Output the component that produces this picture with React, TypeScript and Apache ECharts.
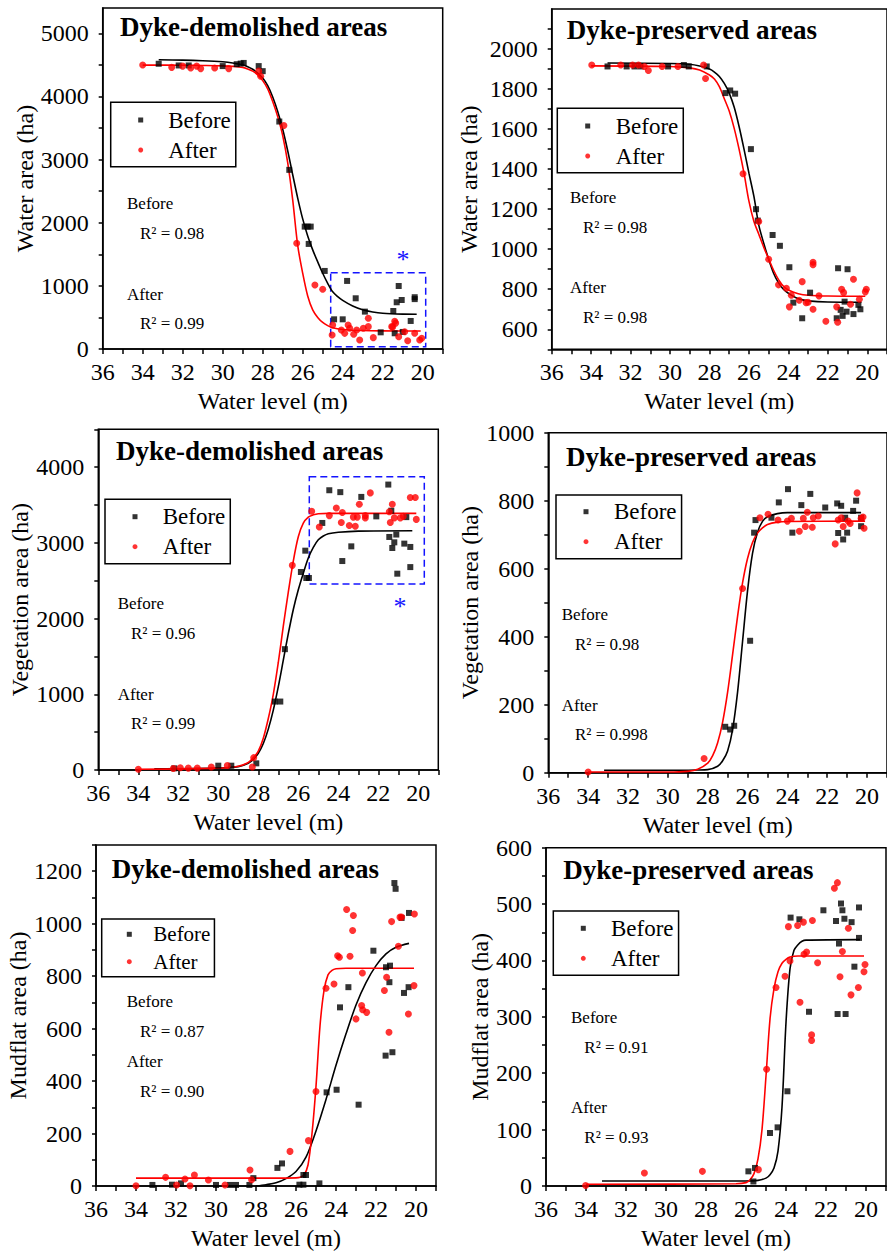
import React, { useEffect, useRef } from 'react';
import * as echarts from 'echarts';

const FONT = "'Liberation Serif', 'Times New Roman', Times, serif";

// ---------- Shared axis ticks ----------
const xLabelValues = [20, 22, 24, 26, 28, 30, 32, 34, 36];
const xTickValues = [19, 20, 21, 22, 23, 24, 25, 26, 27, 28, 29, 30, 31, 32, 33, 34, 35, 36];

// ---------- Panel 1: Water area, dyke-demolished ----------
const waterDemYLabels = [0, 1000, 2000, 3000, 4000, 5000];
const waterDemYTicks = [0, 500, 1000, 1500, 2000, 2500, 3000, 3500, 4000, 4500, 5000];
const waterDemBefore = [
  [33.2, 4517], [32.2, 4490], [31.7, 4490], [30.0, 4480], [29.3, 4510], [29.1, 4520], [28.95, 4530],
  [28.2, 4480], [28.0, 4400], [27.17, 3602], [26.67, 2837], [25.9, 1938], [25.75, 1938], [25.6, 1938],
  [25.7, 1664], [24.9, 1236], [24.43, 470], [24.0, 470], [23.78, 1078], [23.35, 803], [22.89, 592],
  [22.1, 264], [21.4, 249], [21.47, 602], [21.2, 998], [21.3, 740], [21.05, 776], [20.6, 444],
  [20.4, 820], [20.4, 790], [21.0, 270],
];
const waterDemAfter = [
  [34.0, 4496], [32.55, 4460], [32.0, 4480], [31.6, 4450], [31.3, 4480], [31.1, 4440], [30.4, 4450],
  [29.7, 4440], [28.2, 4400], [28.1, 4320], [26.94, 3540], [26.3, 1675], [25.39, 1014], [25.0, 946],
  [24.5, 380], [24.53, 222], [24.07, 301], [23.9, 248], [23.73, 380], [23.65, 328], [23.45, 233],
  [23.15, 143], [23.3, 301], [22.97, 328], [22.72, 486], [22.72, 354], [22.47, 180], [21.55, 354],
  [21.4, 440], [21.35, 410], [21.5, 350], [21.2, 195], [20.9, 274], [20.75, 132], [20.4, 249],
  [20.15, 143], [20.05, 170],
];
const waterDemBeforeFit = [
  [20.3, 550], [21, 552], [22, 565], [22.5, 585], [23, 620], [23.5, 680], [24, 770], [24.25, 830],
  [24.5, 905], [24.75, 1040], [25, 1200], [25.25, 1380], [25.5, 1570], [25.75, 1790], [26, 2060],
  [26.25, 2390], [26.5, 2760], [26.75, 3140], [27, 3480], [27.25, 3760], [27.5, 3990], [27.75, 4170],
  [28, 4290], [28.25, 4370], [28.5, 4430], [28.75, 4470], [29, 4500], [29.5, 4530], [30, 4548],
  [31, 4565], [32, 4575], [33.2, 4580],
];
const waterDemAfterFit = [
  [20.1, 285], [22, 287], [23, 292], [24, 310], [24.5, 335], [24.75, 370], [25, 420], [25.25, 500],
  [25.5, 620], [25.75, 840], [26, 1200], [26.25, 1640], [26.5, 2360], [26.75, 2950], [27, 3380],
  [27.25, 3680], [27.5, 3920], [27.75, 4120], [28, 4250], [28.25, 4342], [28.5, 4400], [28.75, 4435],
  [29, 4460], [29.5, 4475], [30, 4484], [31, 4490], [32, 4494], [34, 4496],
];

// ---------- Panel 2: Water area, dyke-preserved ----------
const waterPresYLabels = [600, 800, 1000, 1200, 1400, 1600, 1800, 2000];
const waterPresYTicks = [500, 600, 700, 800, 900, 1000, 1100, 1200, 1300, 1400, 1500, 1600, 1700, 1800, 1900, 2000, 2100];
const waterPresBefore = [
  [33.17, 1913], [32.2, 1913], [31.8, 1913], [31.5, 1913], [30.1, 1913], [29.3, 1920], [29.05, 1913],
  [28.14, 1913], [27.19, 1780], [26.95, 1793], [26.7, 1777], [25.9, 1500], [25.64, 1200], [25.55, 1143],
  [24.8, 1071], [24.43, 1017], [23.95, 910], [23.75, 733], [23.3, 655], [22.9, 783], [21.48, 905],
  [21.0, 900], [21.55, 655], [21.35, 697], [21.25, 667], [21.15, 738], [21.05, 688], [20.7, 676],
  [20.45, 722], [20.35, 700],
];
const waterPresAfter = [
  [33.97, 1920], [32.5, 1920], [31.9, 1920], [31.6, 1920], [31.3, 1913], [31.1, 1893], [30.4, 1913],
  [29.6, 1913], [28.3, 1920], [28.2, 1853], [26.3, 1377], [25.5, 1138], [25.0, 950], [24.5, 822],
  [24.1, 805], [23.85, 770], [23.95, 712], [23.45, 745], [23.3, 838], [23.1, 733], [23.0, 735],
  [22.75, 923], [22.75, 935], [22.75, 700], [22.45, 767], [22.1, 640], [21.55, 712], [21.5, 635],
  [21.3, 800], [21.2, 783], [20.7, 850], [20.85, 725], [20.4, 750], [20.05, 800], [20.1, 787],
];
const waterPresBeforeFit = [
  [20.3, 735], [22, 736], [23, 742], [23.5, 752], [24, 780], [24.25, 800], [24.5, 832], [24.75, 880],
  [25, 950], [25.25, 1030], [25.5, 1120], [25.75, 1265], [26, 1380], [26.25, 1500], [26.5, 1613],
  [26.75, 1710], [27, 1780], [27.25, 1828], [27.5, 1863], [27.75, 1885], [28, 1900], [28.5, 1915],
  [29, 1924], [30, 1928], [33.17, 1930],
];
const waterPresAfterFit = [
  [20.1, 765], [22, 766], [23, 770], [23.5, 778], [24, 796], [24.25, 815], [24.5, 848], [24.75, 895],
  [25, 952], [25.25, 1010], [25.5, 1075], [25.75, 1140], [26, 1240], [26.25, 1380], [26.5, 1500],
  [26.75, 1605], [27, 1690], [27.25, 1752], [27.5, 1812], [27.75, 1850], [28, 1870], [28.5, 1895],
  [29, 1906], [30, 1913], [34, 1916],
];

// ---------- Panel 3: Vegetation area, dyke-demolished ----------
const vegDemYLabels = [0, 1000, 2000, 3000, 4000];
const vegDemYTicks = [0, 500, 1000, 1500, 2000, 2500, 3000, 3500, 4000, 4500];
const vegDemBefore = [
  [32.2, 22], [30.0, 57], [29.35, 57], [28.1, 88], [27.17, 904], [26.9, 904], [26.67, 1596],
  [25.87, 2615], [25.65, 2897], [25.6, 2536], [25.47, 2536], [24.8, 3263], [24.45, 3695], [23.9, 3670],
  [23.8, 2760], [23.35, 2954], [22.85, 3607], [22.1, 3350], [21.5, 3770], [21.45, 3078], [21.35, 3425],
  [21.3, 2932], [21.2, 3007], [21.1, 3110], [21.05, 2593], [20.7, 2990], [20.6, 3340], [20.4, 2946],
  [20.4, 2680],
];
const vegDemAfter = [
  [34.0, 10], [32.25, 20], [31.9, 30], [31.5, 25], [31.05, 25], [30.35, 40], [29.55, 60], [28.23, 163],
  [28.3, 40], [26.3, 2703], [25.33, 3417], [24.95, 3210], [24.45, 3360], [24.1, 3460], [23.8, 3400],
  [23.85, 3270], [23.45, 3230], [23.15, 3220], [23.25, 3340], [23.05, 3340], [22.95, 3510], [22.65, 3330],
  [22.65, 3360], [22.4, 3660], [21.45, 3410], [21.4, 3270], [21.3, 3510], [21.2, 3330], [20.9, 3330],
  [20.75, 3350], [20.4, 3600], [20.15, 3600], [20.1, 3310],
];
const vegDemBeforeFit = [
  [20.3, 3160], [23, 3155], [24, 3140], [24.5, 3120], [24.75, 3090], [25, 3040], [25.25, 2940],
  [25.5, 2800], [25.75, 2600], [26, 2380], [26.25, 2120], [26.5, 1800], [26.75, 1450], [27, 1100],
  [27.25, 790], [27.5, 540], [27.75, 350], [28, 220], [28.25, 140], [28.5, 90], [29, 45], [30, 25],
  [33.2, 15],
];
const vegDemAfterFit = [
  [20.1, 3390], [24.5, 3390], [25, 3385], [25.25, 3370], [25.5, 3340], [25.75, 3260], [26, 3080],
  [26.25, 2760], [26.5, 2350], [26.75, 1900], [27, 1420], [27.25, 1000], [27.5, 680], [27.75, 420],
  [28, 250], [28.25, 160], [28.5, 100], [29, 50], [30, 25], [34, 10],
];

// ---------- Panel 4: Vegetation area, dyke-preserved ----------
const vegPresYLabels = [0, 200, 400, 600, 800, 1000];
const vegPresYTicks = [0, 100, 200, 300, 400, 500, 600, 700, 800, 900, 1000];
const vegPresBefore = [
  [27.12, 135], [26.87, 127], [26.67, 138], [25.87, 388], [25.67, 706], [25.6, 743], [24.8, 750],
  [24.43, 795], [23.97, 834], [23.75, 706], [23.3, 787], [22.85, 820], [22.1, 780], [21.5, 792],
  [21.3, 785], [21.45, 705], [21.2, 686], [21.0, 706], [21.1, 750], [20.7, 770], [20.55, 800],
  [20.3, 750], [20.3, 725],
];
const vegPresAfter = [
  [34.0, 2], [28.18, 42], [26.25, 542], [25.38, 750], [24.97, 760], [24.47, 743], [24.0, 740],
  [23.8, 748], [23.4, 710], [23.2, 748], [23.1, 724], [23.0, 766], [22.75, 722], [22.7, 750],
  [22.45, 755], [21.6, 673], [21.45, 743], [21.3, 750], [21.2, 724], [20.95, 740], [20.85, 733],
  [20.5, 823], [20.3, 748], [20.2, 752], [20.15, 719],
];
const vegPresBeforeFit = [
  [20.3, 765], [24, 765], [24.5, 762], [25, 753], [25.25, 739], [25.5, 707], [25.75, 645], [26, 535],
  [26.25, 386], [26.5, 237], [26.75, 127], [27, 64], [27.25, 35], [27.5, 19], [28, 9], [28.5, 8],
  [30, 7], [33.2, 7],
];
const vegPresAfterFit = [
  [20.1, 740], [24, 739], [24.5, 737], [25, 730], [25.25, 720], [25.5, 705], [25.75, 677], [26, 630],
  [26.25, 558], [26.5, 460], [26.75, 347], [27, 237], [27.25, 149], [27.5, 88], [27.75, 50], [28, 28],
  [28.5, 10], [29, 4], [30, 2], [34, 2],
];

// ---------- Panel 5: Mudflat area, dyke-demolished ----------
const mudDemYLabels = [0, 200, 400, 600, 800, 1000, 1200];
const mudDemYTicks = [0, 100, 200, 300, 400, 500, 600, 700, 800, 900, 1000, 1100, 1200, 1300];
const mudDemBefore = [
  [33.18, 4], [32.2, 5], [31.75, 10], [30.0, 4], [29.3, 4], [29.0, 4], [28.33, 4], [28.13, 30],
  [26.93, 69], [26.7, 86], [25.83, 5], [25.63, 5], [25.63, 42], [25.5, 42], [24.83, 10], [24.47, 357],
  [23.97, 367], [23.8, 681], [23.38, 758], [22.87, 310], [22.13, 897], [21.5, 834], [21.3, 840],
  [21.33, 777], [21.52, 497], [21.18, 510], [21.08, 1155], [21.02, 1133], [20.72, 1022], [20.6, 736],
  [20.37, 758], [20.35, 1041],
];
const mudDemAfter = [
  [34.0, 1], [32.52, 33], [31.97, 4], [31.55, 27], [31.3, 1], [31.08, 42], [30.38, 23], [29.55, 4],
  [28.3, 61], [28.22, 24], [26.3, 132], [25.38, 173], [25.0, 360], [24.5, 754], [24.1, 770],
  [23.92, 878], [23.83, 872], [23.47, 1054], [23.3, 876], [23.13, 1031], [23.17, 974], [23.0, 637],
  [22.68, 812], [22.72, 688], [22.67, 672], [22.47, 662], [21.58, 745], [21.47, 796], [21.35, 586],
  [21.22, 1008], [20.88, 914], [20.8, 1025], [20.72, 1025], [20.38, 656], [20.1, 764], [20.08, 1037],
];
const mudDemBeforeFit = [
  [20.35, 925], [21, 910], [21.5, 885], [22, 840], [22.5, 775], [23, 690], [23.5, 580], [24, 460],
  [24.5, 330], [25, 210], [25.5, 110], [26, 55], [26.5, 28], [27, 12], [27.5, 5], [28, 0],
];
const mudDemAfterFit = [
  [20.1, 830], [23.5, 830], [24, 828], [24.2, 822], [24.4, 805], [24.6, 745], [24.8, 610],
  [25.0, 380], [25.2, 200], [25.4, 80], [25.6, 42], [25.8, 33], [26, 31], [27, 30], [34, 30],
];

// ---------- Panel 6: Mudflat area, dyke-preserved ----------
const mudPresYLabels = [0, 100, 200, 300, 400, 500, 600];
const mudPresYTicks = [0, 50, 100, 150, 200, 250, 300, 350, 400, 450, 500, 550, 600];
const mudPresBefore = [
  [25.88, 26], [25.63, 8], [25.55, 32], [24.8, 94], [24.42, 104], [23.93, 168], [23.77, 476],
  [23.33, 473], [22.85, 309], [22.13, 489], [21.5, 470], [21.42, 305], [21.35, 430], [21.25, 501],
  [21.18, 489], [21.08, 474], [21.02, 305], [20.72, 468], [20.58, 389], [20.35, 494], [20.35, 440],
];
const mudPresAfter = [
  [34.02, 1], [31.08, 23], [28.18, 26], [25.38, 29], [24.97, 207], [24.5, 352], [24.05, 372],
  [23.88, 460], [23.8, 399], [23.42, 462], [23.3, 326], [23.13, 468], [23.1, 411], [22.97, 415],
  [22.68, 471], [22.72, 268], [22.72, 258], [22.42, 396], [21.58, 528], [21.43, 538], [21.3, 371],
  [21.18, 416], [20.88, 457], [20.75, 339], [20.38, 352], [20.1, 380], [20.05, 393],
];
const mudPresBeforeFit = [
  [20.3, 437], [23, 436], [23.2, 434], [23.4, 428], [23.6, 418], [23.8, 385], [24.0, 290],
  [24.2, 140], [24.4, 62], [24.6, 32], [24.8, 20], [25, 14], [25.4, 10], [26, 9], [33.2, 9],
];
const mudPresAfterFit = [
  [20.1, 408], [23.4, 408], [23.8, 406], [24.0, 402], [24.2, 395], [24.4, 380], [24.6, 350],
  [24.8, 296], [25.0, 195], [25.2, 100], [25.4, 48], [25.6, 22], [25.8, 11], [26, 6], [26.5, 4],
  [34, 3],
];

// ---------- Layout of the six panels ----------
const panels = [
  {
    grid: { left: 102.7, top: 8, width: 340, height: 341 },
    yMin: 0, yMax: 5400, yInterval: 500, yLabels: waterDemYLabels, yTicks: waterDemYTicks,
    yName: 'Water area (ha)', yNameGap: 66,
    title: 'Dyke-demolished areas', titlePos: [120, 27],
    before: waterDemBefore, after: waterDemAfter, beforeFit: waterDemBeforeFit, afterFit: waterDemAfterFit,
    legend: { left: 110.7, top: 102.3, padL: 27.5, padT: 4.7, padB: 3.7, padR: 5, textPad: 20, fontSize: 23, lh: 26, gap: 4 },
    notes: [[127, 203, 'Before'], [140, 233, 'R² = 0.98'], [127, 294, 'After'], [140, 323, 'R² = 0.99']],
    box: [[24.6, 1209], [19.85, 36]], star: [403, 253],
  },
  {
    grid: { left: 551.7, top: 9, width: 340, height: 340.3 },
    yMin: 500, yMax: 2200, yInterval: 100, yLabels: waterPresYLabels, yTicks: waterPresYTicks,
    yName: 'Water area (ha)', yNameGap: 71,
    title: 'Dyke-preserved areas', titlePos: [566.7, 30],
    before: waterPresBefore, after: waterPresAfter, beforeFit: waterPresBeforeFit, afterFit: waterPresAfterFit,
    legend: { left: 557.3, top: 108.3, padL: 27.9, padT: 4.7, padB: 3.7, padR: 5, textPad: 20.5, fontSize: 23, lh: 26, gap: 4 },
    notes: [[570, 197, 'Before'], [583, 227, 'R² = 0.98'], [570, 287, 'After'], [583, 317, 'R² = 0.98']],
    box: null, star: null,
  },
  {
    grid: { left: 98.3, top: 429.3, width: 340, height: 340.7 },
    yMin: 0, yMax: 4500, yInterval: 500, yLabels: vegDemYLabels, yTicks: vegDemYTicks,
    yName: 'Vegetation area (ha)', yNameGap: 66,
    title: 'Dyke-demolished areas', titlePos: [116, 451],
    before: vegDemBefore, after: vegDemAfter, beforeFit: vegDemBeforeFit, afterFit: vegDemAfterFit,
    legend: { left: 105, top: 499.3, padL: 27.5, padT: 4.4, padB: 4, padR: 5, textPad: 20.2, fontSize: 23, lh: 26, gap: 4 },
    notes: [[117.7, 603, 'Before'], [131, 633, 'R² = 0.96'], [117.7, 694, 'After'], [131, 723, 'R² = 0.99']],
    box: [[25.45, 3872], [19.7, 2456]], star: [400, 600],
  },
  {
    grid: { left: 548.3, top: 432.7, width: 340, height: 340 },
    yMin: 0, yMax: 1000, yInterval: 100, yLabels: vegPresYLabels, yTicks: vegPresYTicks,
    yName: 'Vegetation area (ha)', yNameGap: 61,
    title: 'Dyke-preserved areas', titlePos: [566, 457],
    before: vegPresBefore, after: vegPresAfter, beforeFit: vegPresBeforeFit, afterFit: vegPresAfterFit,
    legend: { left: 556, top: 495, padL: 27.5, padT: 3.7, padB: 4, padR: 5, textPad: 20.5, fontSize: 23, lh: 26, gap: 4 },
    notes: [[561.7, 614, 'Before'], [575, 644, 'R² = 0.98'], [561.7, 705, 'After'], [575, 734, 'R² = 0.998']],
    box: null, star: null,
  },
  {
    grid: { left: 96, top: 845, width: 340, height: 342 },
    yMin: 0, yMax: 1300, yInterval: 100, yLabels: mudDemYLabels, yTicks: mudDemYTicks,
    yName: 'Mudflat area (ha)', yNameGap: 58,
    title: 'Dyke-demolished areas', titlePos: [111.7, 869],
    before: mudDemBefore, after: mudDemAfter, beforeFit: mudDemBeforeFit, afterFit: mudDemAfterFit,
    legend: { left: 101.7, top: 919, padL: 25.1, padT: 3.3, padB: 3, padR: 4, textPad: 16.5, fontSize: 21, lh: 24, gap: 3.4 },
    notes: [[126.7, 1001, 'Before'], [140, 1031, 'R² = 0.87'], [126.7, 1061, 'After'], [140, 1091, 'R² = 0.90']],
    box: null, star: null,
  },
  {
    grid: { left: 546, top: 847.7, width: 340, height: 340.6 },
    yMin: 0, yMax: 600, yInterval: 50, yLabels: mudPresYLabels, yTicks: mudPresYTicks,
    yName: 'Mudflat area (ha)', yNameGap: 54,
    title: 'Dyke-preserved areas', titlePos: [563.3, 870],
    before: mudPresBefore, after: mudPresAfter, beforeFit: mudPresBeforeFit, afterFit: mudPresAfterFit,
    legend: { left: 553.3, top: 911, padL: 27.5, padT: 4.3, padB: 4, padR: 5, textPad: 20.2, fontSize: 23, lh: 26, gap: 4 },
    notes: [[571, 1017, 'Before'], [584.3, 1047, 'R² = 0.91'], [571, 1107, 'After'], [584.3, 1137, 'R² = 0.93']],
    box: null, star: null,
  },
];

function buildOption() {
  const grid = panels.map((p) => ({
    ...p.grid,
    show: true,
    borderColor: '#000',
    borderWidth: 1.5,
    backgroundColor: 'transparent',
    containLabel: false,
  }));

  const xAxis = panels.map((p, i) => ({
    type: 'value',
    gridIndex: i,
    min: 19,
    max: 36,
    interval: 1,
    inverse: true,
    name: 'Water level (m)',
    nameLocation: 'middle',
    nameGap: 40,
    nameTextStyle: { fontFamily: FONT, fontSize: 24, color: '#000' },
    axisLine: { show: true, onZero: false, lineStyle: { color: '#000', width: 1.5 } },
    axisTick: { show: true, inside: false, length: 5, customValues: xTickValues, lineStyle: { color: '#000', width: 1.5 } },
    axisLabel: {
      show: true, customValues: xLabelValues, margin: 11, fontFamily: FONT, fontSize: 24, color: '#000',
      formatter: (v: number) => String(v),
    },
    splitLine: { show: false },
  }));

  const yAxis = panels.map((p, i) => ({
    type: 'value',
    gridIndex: i,
    min: p.yMin,
    max: p.yMax,
    interval: p.yInterval,
    name: p.yName,
    nameLocation: 'middle',
    nameGap: p.yNameGap,
    nameTextStyle: { fontFamily: FONT, fontSize: 24, color: '#000' },
    axisLine: { show: true, onZero: false, lineStyle: { color: '#000', width: 1.5 } },
    axisTick: { show: true, inside: false, length: 4, customValues: p.yTicks, lineStyle: { color: '#000', width: 1.5 } },
    axisLabel: {
      show: true, customValues: p.yLabels, margin: 14, fontFamily: FONT, fontSize: 24, color: '#000',
      formatter: (v: number) => String(v),
    },
    splitLine: { show: false },
  }));

  const legend = panels.map((p) => ({
    orient: 'vertical',
    left: p.legend.left,
    top: p.legend.top,
    data: [
      { name: 'Before', icon: 'rect' },
      { name: 'After', icon: 'circle' },
    ],
    itemWidth: 5,
    itemHeight: 5,
    itemGap: p.legend.gap,
    padding: [p.legend.padT, p.legend.padR, p.legend.padB, p.legend.padL],
    borderColor: '#000',
    borderWidth: 1.5,
    backgroundColor: '#fff',
    selectedMode: false,
    textStyle: {
      fontFamily: FONT,
      fontSize: p.legend.fontSize,
      lineHeight: p.legend.lh,
      color: '#000',
      padding: [0, 0, 0, p.legend.textPad],
    },
  }));

  const series: any[] = [];
  panels.forEach((p, i) => {
    series.push({
      type: 'line', name: 'Before fit', xAxisIndex: i, yAxisIndex: i, data: p.beforeFit,
      smooth: 0.3, showSymbol: false, symbol: 'none',
      lineStyle: { color: '#000', width: 1.6 }, itemStyle: { color: '#000' }, z: 2, silent: true,
    });
    series.push({
      type: 'line', name: 'After fit', xAxisIndex: i, yAxisIndex: i, data: p.afterFit,
      smooth: 0.3, showSymbol: false, symbol: 'none',
      lineStyle: { color: '#ff0000', width: 1.6 }, itemStyle: { color: '#ff0000' }, z: 2, silent: true,
    });
    const beforeSeries: any = {
      type: 'scatter', name: 'Before', xAxisIndex: i, yAxisIndex: i, data: p.before,
      symbol: 'rect', symbolSize: 6, itemStyle: { color: '#000' }, z: 3,
    };
    if (p.box) {
      beforeSeries.markArea = {
        silent: true,
        itemStyle: { color: 'rgba(0,0,0,0)', borderColor: '#1414ff', borderWidth: 1.5, borderType: [7, 4] },
        label: { show: false },
        data: [[{ xAxis: p.box[0][0], yAxis: p.box[0][1] }, { xAxis: p.box[1][0], yAxis: p.box[1][1] }]],
      };
    }
    series.push(beforeSeries);
    series.push({
      type: 'scatter', name: 'After', xAxisIndex: i, yAxisIndex: i, data: p.after,
      symbol: 'circle', symbolSize: 7, itemStyle: { color: '#ff0000' }, z: 4,
    });
  });

  const graphic: any[] = [];
  panels.forEach((p) => {
    graphic.push({
      type: 'text', x: p.titlePos[0], y: p.titlePos[1], z: 100,
      style: {
        text: p.title, fontFamily: FONT, fontSize: 27, fontWeight: 'bold', fill: '#000',
        textAlign: 'left', textVerticalAlign: 'middle',
      },
    });
    p.notes.forEach((n) => {
      graphic.push({
        type: 'text', x: n[0] as number, y: n[1] as number, z: 100,
        style: {
          text: n[2] as string, fontFamily: FONT, fontSize: 17, fill: '#000',
          textAlign: 'left', textVerticalAlign: 'middle',
        },
      });
    });
    if (p.star) {
      graphic.push({
        type: 'text', x: p.star[0], y: p.star[1] + 6, z: 100,
        style: {
          text: '*', fontFamily: FONT, fontSize: 26, fill: '#1414ff',
          textAlign: 'center', textVerticalAlign: 'middle',
        },
      });
    }
  });

  return {
    animation: false,
    backgroundColor: '#fff',
    textStyle: { fontFamily: FONT },
    grid,
    xAxis,
    yAxis,
    legend,
    series,
    graphic,
  };
}

export default function App() {
  const ref = useRef<HTMLDivElement>(null);
  useEffect(() => {
    if (!ref.current) return;
    const chart = echarts.init(ref.current, undefined, { renderer: 'svg' });
    chart.setOption(buildOption() as any);
    return () => chart.dispose();
  }, []);
  return (
    <div
      ref={ref}
      style={{ position: 'absolute', left: 0, top: 0, width: 887, height: 1251, background: '#fff' }}
    />
  );
}
